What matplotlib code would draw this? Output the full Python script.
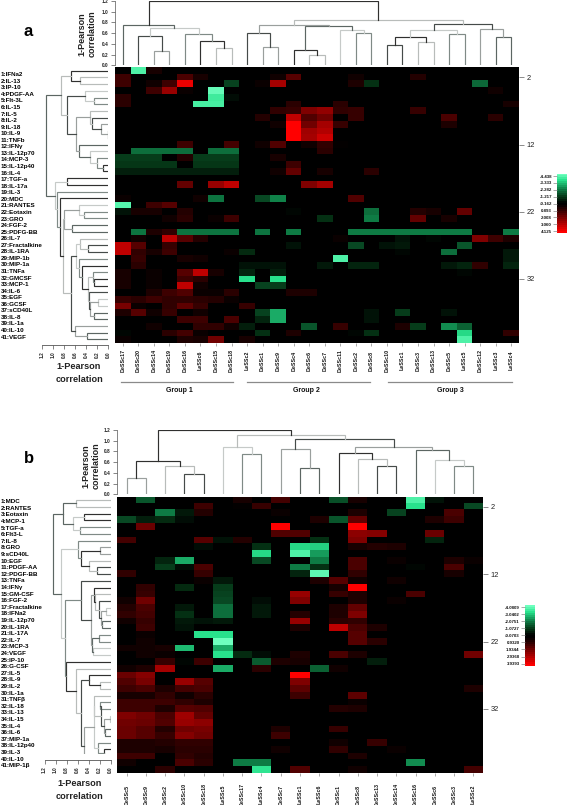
import numpy as np
import matplotlib
matplotlib.use('Agg')
import matplotlib.pyplot as plt
from matplotlib.colors import LinearSegmentedColormap, Normalize

W, H = 567, 805

# panel a
rows_a = ['1:IFNa2', '2:IL-13', '3:IP-10', '4:PDGF-AA', '5:Flt-3L', '6:IL-15', '7:IL-5', '8:IL-2', '9:IL-18',
          '10:IL-9', '11:TNFb', '12:IFNγ', '13:IL-12p70', '14:MCP-3', '15:IL-12p40', '16:IL-4', '17:TGF-a',
          '18:IL-17a', '19:IL-3', '20:MDC', '21:RANTES', '22:Eotaxin', '23:GRO', '24:FGF-2', '25:PDFG-BB',
          '26:IL-7', '27:Fractalkine', '28:IL-1RA', '29:MIP-1b', '30:MIP-1a', '31:TNFa', '32:GMCSF', '33:MCP-1',
          '34:IL-6', '35:EGF', '36:GCSF', '37:sCD40L', '38:IL-8', '39:IL-1a', '40:IL-10', '41:VEGF']
cols_a = ['DeSSc17', 'DeSSc20', 'DeSSc14', 'DeSSc19', 'DeSSc16', 'LeSSc6', 'DeSSc15', 'DeSSc18', 'LeSSc2',
          'DeSSc1', 'DeSSc9', 'DeSSc4', 'DeSSc6', 'DeSSc7', 'DeSSc11', 'DeSSc2', 'DeSSc8', 'DeSSc10', 'LeSSc1',
          'DeSSc3', 'DeSSc13', 'DeSSc5', 'LeSSc5', 'DeSSc12', 'LeSSc3', 'LeSSc4']
heat_a = [
    {1: -4.0, 2: .4},
    {0: 1.0, 4: 1.2, 5: .4, 10: .3, 11: 1.4, 15: .3, 19: .6},
    {0: 1.0, 2: .3, 3: 1.0, 4: 3.7, 7: -1.3, 9: .2, 10: 2.6, 15: .5, 16: -1.0, 23: -1.9},
    {2: 1.0, 3: 2.4, 4: .2, 6: -4.3, 24: .3},
    {0: .7, 2: -.1, 6: -3.8, 7: -.4},
    {0: .7, 5: -3.9, 6: -3.9, 11: .7, 14: .7, 25: .4},
    {10: .8, 11: .9, 12: 2.0, 13: 2.3, 14: .8, 15: .9, 19: .9},
    {9: .6, 11: 3.0, 12: 1.3, 13: 1.8, 15: .9, 21: 1.2, 24: .7},
    {10: .3, 11: 4.0, 12: 1.8, 13: 2.6, 14: .9, 21: .5},
    {11: 4.0, 12: 2.5, 13: 2.8},
    {11: 4.0, 12: 2.6, 13: 3.2},
    {4: 1.0, 7: 1.1, 9: .3, 10: 1.3, 12: .3, 13: .8, 14: .1},
    {1: -2.0, 2: -2.0, 3: -2.0, 4: -2.0, 6: -2.0, 7: -2.0, 13: .7},
    {0: -1.2, 1: -1.2, 2: -1.2, 4: .6, 5: -1.2, 6: -1.2, 7: -1.2, 10: .4},
    {0: -1.1, 1: -1.1, 2: -1.1, 3: -1.1, 5: -1.1, 6: -1.1, 7: -1.1, 11: 1.0},
    {0: -.7, 1: -.7, 2: -.7, 3: -.7, 4: -.7, 5: -.7, 6: -.7, 7: -.7, 10: .3, 11: 1.6, 13: .4, 16: .7},
    {},
    {4: 1.6, 6: 2.4, 7: 3.0, 12: 2.0, 13: 2.6},
    {},
    {0: .2, 5: .3, 6: -2.1, 9: -1.4, 10: -2.3, 15: 1.3},
    {0: -4.1, 2: 1.0, 3: 1.4},
    {0: -.5, 1: .4, 2: .4, 4: .6, 11: -.3, 16: -2.0, 19: .6, 20: .4, 22: 1.6},
    {3: .3, 4: .7, 6: .2, 7: 1.0, 13: -1.0, 16: -2.2, 19: 1.6, 21: .4},
    {},
    {1: -2.1, 2: .5, 3: .8, 4: -2.1, 5: -2.1, 6: -2.1, 7: -2.1, 9: -2.1, 11: -2.2, 15: -2.2, 16: -2.2, 17: -2.2,
     18: -2.2, 19: -2.2, 20: -2.2, 21: -2.2, 22: -2.2, 25: -2.2},
    {1: .3, 3: 3.0, 4: 1.4, 5: .6, 14: .2, 18: -.5, 20: -.3, 23: 2.0, 24: 1.0, 25: .5},
    {0: 3.0, 1: 1.4, 3: .9, 11: -.5, 15: -1.4, 17: -.5, 18: -.6, 22: -1.6},
    {0: 3.0, 1: .8, 2: .4, 3: 1.0, 7: .2, 8: -.9, 18: -.3, 21: -2.0, 25: -.6},
    {1: .9, 4: .4, 5: .3, 14: -4.0, 25: -.6},
    {1: .7, 8: -.5, 9: -.5, 10: -.5, 13: -.6, 15: -.8, 16: -.8, 21: -.6, 22: -.8, 23: .8, 25: -.8},
    {0: .4, 2: .2, 4: 1.4, 5: 3.0, 6: .4, 8: -.8, 10: -.7, 22: -.3},
    {0: .4, 2: .2, 4: 1.0, 5: .7, 8: -3.5, 10: -3.5},
    {0: .4, 2: .2, 4: 3.0, 5: .3, 9: -1.3, 10: -1.2},
    {2: .5, 3: 1.0, 4: 1.3, 5: .2, 6: .2, 7: .7, 11: .5, 12: .5},
    {0: .9, 1: .7, 2: 1.0, 3: .8, 4: .8, 5: .7, 6: .6, 7: .2},
    {0: 1.9, 1: .2, 3: .8, 4: 1.5, 5: .9, 8: .9},
    {0: .5, 1: 1.4, 2: .3, 3: .9, 5: .3, 9: -1.3, 10: -2.8, 16: -.5, 18: -1.2, 21: -.5},
    {4: 1.0, 5: 1.0, 7: 1.2, 9: -.8, 10: -2.8, 16: -.5},
    {2: .3, 5: .8, 6: .8, 7: .3, 8: -.7, 12: -1.6, 14: .9, 18: .5, 19: -1.2, 21: -2.4, 22: -1.8},
    {0: -.3, 3: .7, 4: 1.1, 5: .2, 9: -1.0, 11: .5, 15: -.3, 16: -1.0, 22: -3.4, 25: .8},
    {0: .2, 4: .5, 5: .4, 6: 1.8, 8: .4, 22: -4.0},
]
bar_ticks_a = ['-4.438', '-3.333', '-2.282', '-1.217', '-0.162', '0.893', '2.008', '3.060', '4.125']

# trees are nested (left, right, height)
top_a = ((0, ((1, (2, 3, .26), .55), (4, (5, (6, 7, .32), .45), .58), .70), .75),
         (((8, (9, 10, .35), .60), ((11, (12, 13, .20), .28), (14, (15, 16, .61), .65), .73), .76),
          ((((17, 18, .37), (19, 20, .43), .52), (21, 22, .58), .65), (23, (24, 25, .53), .67), .78), .85), 1.2)
side_a = (((0, (1, 2, .51), .68),
           ((3, (4, 5, .25), .42),
            ((6, (7, (8, (9, 10, .01), .14), .29), .33), (11, (12, (13, (14, 15, .10), .21), .33), .53), .59), .75), .86),
          ((16, 17, .75),
           (18, (19, (((20, (21, 22, .44), .53), (23, 24, .66), .80),
                      ((((25, (26, 27, .37), .51),
                         (28, (29, ((30, (31, 32, .26), .28),
                                    (33, ((34, 35, .18), (36, 37, .25), .33), .35), .37), .48), .53), .58)),
                       (38, (39, 40, .39), .60), .67), .81), .87), .93), .96), 1.13)

# panel b
rows_b = ['1:MDC', '2:RANTES', '3:Eotaxin', '4:MCP-1', '5:TGF-a', '6:Flt3-L', '7:IL-8', '8:GRO', '9:sCD40L', '10:EGF',
          '11:PDGF-AA', '12:PDGF-BB', '13:TNFa', '14:IFNγ', '15:GM-CSF', '16:FGF-2', '17:Fractalkine', '18:IFNa2',
          '19:IL-12p70', '20:IL-1RA', '21:IL-17A', '22:IL-7', '23:MCP-3', '24:VEGF', '25:IP-10', '26:G-CSF', '27:IL-5',
          '28:IL-9', '29:IL-2', '30:IL-1a', '31:TNFβ', '32:IL-18', '33:IL-13', '34:IL-15', '35:IL-4', '36:IL-6',
          '37:MIP-1a', '38:IL-12p40', '39:IL-3', '40:IL-10', '41:MIP-1β']
cols_b = ['DeSSc5', 'DeSSc9', 'DeSSc2', 'DeSSc10', 'DeSSc18', 'LeSSc5', 'DeSSc17', 'LeSSc4', 'DeSSc7', 'LeSSc1',
          'LeSSc6', 'DeSSc1', 'DeSSc8', 'DeSSc13', 'DeSSc14', 'DeSSc16', 'DeSSc6', 'DeSSc3', 'LeSSc2']
heat_b = [
    {1: -1.6, 6: .4, 8: 1.1, 11: -1.5, 12: .4, 15: -4.0, 16: -.5},
    {4: 1.0, 6: .1, 7: .9, 8: -.2, 15: -3.5, 18: -1.4},
    {2: -2.2, 3: -.6, 4: .6, 8: .2, 12: .5, 14: -1.3, 17: 1.2},
    {0: -1.4, 1: -.7, 2: -.9, 3: -.4, 10: .5, 11: -1.6, 12: 1.6, 16: .5, 17: 1.0},
    {1: 1.7, 8: 4.0, 12: 4.0},
    {8: 1.3, 9: 1.3, 12: 2.2, 13: 2.1, 16: 1.7},
    {0: 1.1, 4: 1.4, 5: -.5, 6: .6, 10: -1.0, 12: 2.0, 16: -.8},
    {4: -.4, 7: -1.0, 9: -3.4, 10: -3.3, 12: .4, 13: .6, 14: .5},
    {7: -3.4, 9: -4.0, 10: -2.6},
    {2: -.8, 3: -2.8, 7: -1.4, 10: -2.2, 12: 1.2, 14: .2, 17: .5, 18: .2},
    {2: -1.2, 3: -.4, 4: 1.2, 9: -2.2, 10: -1.0, 12: 1.2, 15: -.3, 17: 1.2},
    {0: .8, 4: .9, 9: -.8, 10: -4.2, 12: .8, 17: .4},
    {4: .2, 5: -.6, 10: .5, 11: 1.4, 12: .3, 14: .3},
    {1: .8, 3: -.9, 5: -1.2, 11: .4, 12: 4.0},
    {1: .9, 5: -1.3, 9: 2.4, 11: .9, 12: .5, 15: 1.2},
    {0: .3, 1: 1.8, 5: -1.4, 7: -.4, 9: 2.0, 12: .5, 14: .2},
    {0: .6, 1: 1.2, 3: -.6, 5: -2.0, 7: -.6, 11: .5, 12: 1.6},
    {0: .8, 1: 1.1, 3: -1.0, 5: -2.0, 7: -.6, 9: .6, 11: .5, 12: 2.0},
    {0: .3, 1: .9, 3: -.6, 4: -.5, 5: -.6, 9: 2.4, 11: .7, 12: .8},
    {1: 1.0, 3: -.5, 9: .5, 11: 3.0, 12: 1.2, 13: .5},
    {1: .2, 4: -3.5, 5: -3.5, 12: 1.4},
    {1: .3, 5: -4.4, 12: 1.4, 13: .7},
    {0: .3, 1: .3, 2: .4, 3: -3.0, 5: -2.8},
    {1: .3, 2: .2, 5: -3.5, 6: -.9, 7: -.4, 9: .5, 11: 1.2, 12: .5, 18: 1.8},
    {2: .9, 3: -.3, 4: 1.0, 7: -1.7, 8: .5, 9: .4, 13: -.7},
    {0: .3, 1: .5, 2: 2.6, 5: -2.8, 7: .7, 10: -1.8, 11: .3},
    {0: 1.7, 1: 2.1, 9: 4.0},
    {0: 1.3, 1: 1.9, 3: 2.4, 4: 1.4, 9: 2.0},
    {0: 1.0, 1: 1.2, 2: .5, 3: 1.1, 4: 1.2, 9: 1.5, 18: .5},
    {0: .4, 1: .4, 2: .8, 3: .3, 4: .7, 9: 1.0, 12: 1.5},
    {0: 1.0, 1: 1.0, 2: 1.0, 3: .8, 4: .5, 12: .2},
    {0: 1.0, 1: 1.0, 2: .5, 3: 1.4, 4: 1.3, 11: .6, 12: .5},
    {0: 2.0, 1: 1.8, 2: 1.2, 3: 2.5, 4: 1.6},
    {0: 1.8, 1: 1.7, 2: 1.3, 3: 2.4, 4: 2.2},
    {0: 1.7, 1: 1.4, 2: .6, 3: 1.8, 4: 1.9, 8: .5, 11: .9},
    {0: 1.7, 1: 1.4, 2: .9, 3: 2.1, 4: 1.8, 8: 1.0},
    {0: .5, 1: .5, 2: .6, 3: .8, 4: .8, 11: .3, 13: .9},
    {0: .5, 1: .5, 2: .4, 3: .7, 4: .7, 8: .3, 11: .8, 14: .2},
    {0: 1.0, 1: 1.0, 3: .8, 4: .6, 12: .5},
    {0: .3, 3: 1.2, 4: .7, 6: -2.2, 7: -2.2, 15: -2.4},
    {2: .7, 7: -3.6, 9: 1.3, 12: .3, 18: 1.1},
]
bar_ticks_b = ['-4.0809', '-3.0402', '-2.0751', '-1.0727', '-0.0703', '0.9320', '1.9344', '2.9368', '3.9393']

top_b = (((0, 1, .30), (2, (3, 4, .37), .53), .62),
         ((5, (6, 7, .75), .89),
          ((8, (9, 10, .49), .84),
           ((11, (12, (13, 14, .52), .65), .77), (15, (16, (17, 18, .53), .64), .83), .89), 1.04), 1.11), 1.2)
side_b = (((0, 1, .63), ((2, 3, .48), (4, 5, .55), .69), .86),
          ((6, ((7, 8, .19), (9, (10, 11, .24), .39), .54), .60),
           ((12, ((13, (14, (15, ((16, 17, .08), (18, 19, .16), .17), .21), .28), .31),
                  ((20, 21, .21), (22, 23, .32), .34), .36), .54),
            (24, (25, ((26, (27, 28, .19), .39),
                       (((29, ((30, 31, .19), ((32, 33, .02), (34, 35, .10), .12), .18), .31),
                         (36, (37, 38, .12), .23), .30), (39, 40, .30), .49), .54), .63), .81), .83), .90), 1.04)

shades = ['#9a9f9d', '#454b49', '#b8bcba', '#30302f', '#7f8a86', '#c6cac8', '#5c6663']
tree_ticks = [0.0, 0.2, 0.4, 0.6, 0.8, 1.0, 1.2]
plt.rcParams['font.family'] = 'Liberation Sans'

cmap = LinearSegmentedColormap.from_list('heat', [
    (0.0, (110 / 255, 1.0, 190 / 255)),
    (0.106, (40 / 255, 225 / 255, 140 / 255)),
    (0.259, (15 / 255, 125 / 255, 70 / 255)),
    (0.4, (5 / 255, 50 / 255, 20 / 255)),
    (0.5, (0, 0, 0)),
    (0.53, (0, 0, 0)),
    (1.0, (1.0, 0, 0)),
])
norm = Normalize(-4.4, 4.0)

fig = plt.figure(figsize=(W / 100, H / 100), dpi=100)


def pixel_axes(x0, y0, x1, y1):
    return fig.add_axes([x0 / W, 1 - y1 / H, (x1 - x0) / W, (y1 - y0) / H])


def put_text(x, y, s, **kw):
    fig.text(x / W, 1 - y / H, s, **kw)


def draw_tree(ax, node, n_seen, side):
    # returns position along the leaves and height of this node
    if isinstance(node, int):
        return node, 0.0
    left, right, h = node
    p0, h0 = draw_tree(ax, left, n_seen, side)
    p1, h1 = draw_tree(ax, right, n_seen, side)
    c = shades[n_seen[0] % len(shades)]
    n_seen[0] += 1
    if side:
        ax.plot([h0, h, h, h1], [p0, p0, p1, p1], color=c, lw=0.85, solid_joinstyle='miter')
    else:
        ax.plot([p0, p0, p1, p1], [h0, h, h, h1], color=c, lw=0.85, solid_joinstyle='miter')
    return (p0 + p1) / 2, h


def panel(data, rows, cols, top_tree, side_tree, bar_labels, box, top_box, side_box, side_drop, label_y, col_y, bar_box):
    x0, y0, x1, y1 = box
    grid = np.zeros((len(rows), len(cols)))
    for r, cells in enumerate(data):
        for c, v in cells.items():
            grid[r, c] = v

    ax = pixel_axes(x0, y0, x1, y1)
    ax.imshow(grid, cmap=cmap, norm=norm, aspect='auto', interpolation='nearest')
    for s in ax.spines.values():
        s.set_visible(False)
    ax.set_xticks(range(len(cols)))
    ax.set_xticklabels([])
    ax.tick_params(axis='x', length=2, width=0.5, color='#888888')
    ticks = [1, 11, 21, 31]
    ax.yaxis.tick_right()
    ax.set_yticks(ticks)
    ax.set_yticklabels(['2', '12', '22', '32'], fontsize=5.4, color='#222222')
    ax.tick_params(axis='y', length=3.5, width=0.6, color='#777777', pad=2)

    cw = (x1 - x0) / len(cols)
    for i, name in enumerate(cols):
        put_text(x0 + cw * (i + .5), col_y, name, rotation=90, ha='center', va='center',
                 fontsize=3.8, fontweight='bold', color='#111111')
    for i, name in enumerate(rows):
        put_text(1, label_y[0] + label_y[1] * i, name, ha='left', va='center',
                 fontsize=4.5, fontweight='bold', color='black')

    # dendrogram above the heat map
    at = pixel_axes(*top_box)
    draw_tree(at, top_tree, [0], False)
    at.set_xlim(-.5, len(cols) - .5)
    at.set_ylim(0, 1.2)
    at.set_xticks([])
    at.set_yticks(tree_ticks)
    at.set_yticklabels(['%.1f' % t for t in tree_ticks], fontsize=3.4, fontweight='bold', color='#222222')
    at.tick_params(axis='y', length=3, width=0.5, color='#555555', pad=1.5)
    for s in ['top', 'right', 'bottom']:
        at.spines[s].set_visible(False)
    at.spines['left'].set_linewidth(0.5)
    at.spines['left'].set_color('#555555')
    at.patch.set_alpha(0)

    # dendrogram left of the heat map, its axis sits a little below the tree
    al = pixel_axes(*side_box)
    al.spines['bottom'].set_position(('outward', side_drop * 0.72))
    draw_tree(al, side_tree, [2], True)
    al.set_xlim(1.2, 0)
    rh = (y1 - y0) / len(rows)
    al.set_ylim((side_box[3] - y0) / rh - .5, -.5)
    al.set_yticks([])
    al.set_xticks(tree_ticks)
    al.set_xticklabels(['%.1f' % t for t in tree_ticks], fontsize=3.4, fontweight='bold', rotation=90, color='#222222')
    al.tick_params(axis='x', length=3, width=0.5, color='#555555', pad=1.5)
    for s in ['top', 'right', 'left']:
        al.spines[s].set_visible(False)
    al.spines['bottom'].set_linewidth(0.6)
    al.spines['bottom'].set_color('#555555')
    al.patch.set_alpha(0)

    # colour key
    ab = pixel_axes(*bar_box)
    ab.imshow(np.linspace(-4.4, 4.0, 30).reshape(-1, 1), cmap=cmap, norm=norm, aspect='auto', interpolation='nearest',
              extent=[0, 1, 8.3, -0.3])
    ab.set_xticks([])
    ab.set_yticks(range(9))
    ab.set_yticklabels(bar_labels, fontsize=3.2, fontweight='bold', color='#111111')
    ab.tick_params(axis='y', length=3, width=0.5, color='#888888', pad=0.8)
    for s in ab.spines.values():
        s.set_visible(False)


panel(heat_a, rows_a, cols_a, top_a, side_a, bar_ticks_a,
      (115, 67.3, 519, 342.8), (115, 1, 519, 65.3), (41.7, 67.3, 108.3, 342.8), 2.5,
      (74.7, 6.56), 360.5, (557.3, 174, 567, 233.3))
panel(heat_b, rows_b, cols_b, top_b, side_b, bar_ticks_b,
      (117, 496.7, 483, 773), (117, 430, 483, 494.3), (44.5, 496.7, 110.7, 754), 6,
      (501.7, 6.6), 794.5, (525, 605, 535, 665.7))

# panel letters and axis titles
put_text(28, 32, 'a', fontsize=12, fontweight='bold', ha='center', va='center')
put_text(29, 458, 'b', fontsize=12, fontweight='bold', ha='center', va='center')
put_text(87, 34, '1-Pearson\ncorrelation', rotation=90, fontsize=6.5, fontweight='bold', ha='center', va='center',
         linespacing=1.25, color='#222222')
put_text(91, 466, '1-Pearson\ncorrelation', rotation=90, fontsize=6.5, fontweight='bold', ha='center', va='center',
         linespacing=1.25, color='#222222')
put_text(79, 373, '1-Pearson\ncorrelation', fontsize=6.6, fontweight='bold', ha='center', va='center',
         linespacing=1.5, color='#222222')
put_text(80, 790, '1-Pearson\ncorrelation', fontsize=6.6, fontweight='bold', ha='center', va='center',
         linespacing=1.5, color='#222222')

# group brackets under panel a
group_names = ['Group 1', 'Group 2', 'Group 3']
group_x = [179, 306.7, 450.7]
group_spans = [(121, 233), (247, 370), (388, 512)]
line_ax = pixel_axes(0, 0, W, H)
line_ax.set_xlim(0, W)
line_ax.set_ylim(H, 0)
line_ax.axis('off')
for name, x, span in zip(group_names, group_x, group_spans):
    line_ax.plot(span, [381.7, 381.7], color='#8a8a8a', lw=0.9)
    put_text(x, 390, name, fontsize=5, fontweight='bold', ha='center', va='center', color='#111111')

fig.savefig('out.png', dpi=100)
